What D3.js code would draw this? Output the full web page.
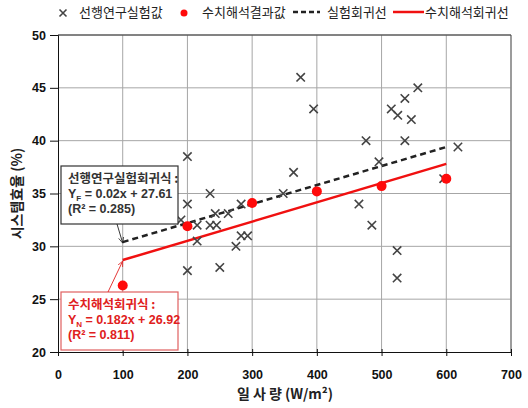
<!DOCTYPE html>
<html>
<head>
<meta charset="utf-8">
<script src="https://cdn.jsdelivr.net/npm/d3@7"></script>
<style>
    body { margin: 0; background: #fff; }
    svg { font-family: "Noto Sans CJK KR", "Liberation Sans", sans-serif; }
    .tick-label { font-family: "Liberation Sans", Arial, sans-serif; font-weight: bold; font-size: 12.5px; fill: #111; }
    .grid line { stroke: #a6a6a6; stroke-width: 1; }
</style>
</head>
<body>
<svg id="chart"></svg>
<script>
// experiment data (선행연구실험값)
const expX = [190, 200, 200, 200, 215, 215, 235, 235, 245, 243, 263, 250, 275, 283, 283, 293,
    348, 364, 375, 395, 465, 476, 485, 496, 515, 525, 524, 524, 536, 536, 546, 556, 596, 618];
const expY = [32.5, 38.5, 34.0, 27.7, 32.0, 30.5, 35.0, 32.0, 32.0, 33.1, 33.1, 28.0, 30.0, 34.0, 31.0, 31.0,
    35.0, 37.0, 46.0, 43.0, 34.0, 40.0, 32.0, 38.0, 43.0, 42.4, 29.6, 27.0, 44.0, 40.0, 42.0, 45.0, 36.4, 39.4];

// numerical results (수치해석결과값)
const numX = [100, 200, 300, 400, 500, 600];
const numY = [26.3, 31.9, 34.1, 35.2, 35.7, 36.4];

// regression lines, end points
const expFitX = [100, 600];
const expFitY = [30.4, 39.4];
const numFitX = [100, 600];
const numFitY = [28.7, 37.8];

const xTicks = [0, 100, 200, 300, 400, 500, 600, 700];
const yTicks = [20, 25, 30, 35, 40, 45, 50];

const legendLabels = ['선행연구실험값', '수치해석결과값', '실험회귀선', '수치해석회귀선'];
const expEqLines = ['선행연구실험회귀식 :', 'Y', '(R² = 0.285)'];
const numEqLines = ['수치해석회귀식 :', 'Y', '(R² = 0.811)'];

const width = 528, height = 408;
const svg = d3.select('#chart').attr('width', width).attr('height', height);

const x = d3.scaleLinear().domain([0, 700]).range([58, 511]);
const y = d3.scaleLinear().domain([20, 50]).range([352, 35]);

// grid
const grid = svg.append('g').attr('class', 'grid');
grid.selectAll('line.v').data(xTicks.slice(1)).enter().append('line')
    .attr('x1', d => x(d)).attr('x2', d => x(d))
    .attr('y1', y(50)).attr('y2', y(20));
grid.selectAll('line.h').data(yTicks.slice(1)).enter().append('line')
    .attr('x1', x(0)).attr('x2', x(700))
    .attr('y1', d => y(d)).attr('y2', d => y(d));

// frame: right edge grey, top dark
svg.append('line').attr('x1', x(700)).attr('x2', x(700)).attr('y1', y(50)).attr('y2', y(20))
    .attr('stroke', '#8a8a8a').attr('stroke-width', 1.5);
svg.append('line').attr('x1', x(0)).attr('x2', x(700)).attr('y1', y(50)).attr('y2', y(50))
    .attr('stroke', '#333').attr('stroke-width', 1);

// axes
const xAxis = svg.append('g').attr('transform', `translate(0,${y(20)})`)
    .call(d3.axisBottom(x).tickValues(xTicks).tickSize(4).tickFormat(d3.format('d')));
xAxis.select('.domain').attr('stroke', '#111');
xAxis.selectAll('.tick line').attr('stroke', '#111').attr('y1', -3);
xAxis.selectAll('.tick text').attr('class', 'tick-label').attr('y', 18);

const yAxis = svg.append('g').attr('transform', `translate(${x(0)},0)`)
    .call(d3.axisLeft(y).tickValues(yTicks).tickSize(8).tickFormat(d3.format('d')));
yAxis.select('.domain').attr('stroke', '#111');
yAxis.selectAll('.tick line').attr('stroke', '#111');
yAxis.selectAll('.tick text').attr('class', 'tick-label').attr('x', -12);

// axis titles
svg.append('text')
    .attr('x', 285).attr('y', 399)
    .attr('text-anchor', 'middle')
    .style('font-size', '14px').style('font-weight', 'bold').style('fill', '#222')
    .text('일 사 량 (W/m²)');
svg.append('text')
    .attr('transform', `translate(22,${y(35)})rotate(-90)`)
    .attr('text-anchor', 'middle')
    .style('font-size', '14px').style('font-weight', 'bold').style('fill', '#222')
    .text('시스템효율 (%)');

// regression lines
const line = d3.line().x(d => x(d[0])).y(d => y(d[1]));
svg.append('path')
    .datum(d3.zip(expFitX, expFitY))
    .attr('d', line)
    .attr('fill', 'none').attr('stroke', '#222').attr('stroke-width', 2.5)
    .attr('stroke-dasharray', '6,4');
svg.append('path')
    .datum(d3.zip(numFitX, numFitY))
    .attr('d', line)
    .attr('fill', 'none').attr('stroke', '#f01010').attr('stroke-width', 2.5);

// x markers
const cross = (sel, s) => sel.append('path')
    .attr('d', `M${-s},${-s}L${s},${s}M${-s},${s}L${s},${-s}`)
    .attr('stroke', '#444').attr('stroke-width', 1.6).attr('fill', 'none');
const marks = svg.append('g').selectAll('g').data(d3.zip(expX, expY)).enter().append('g')
    .attr('transform', d => `translate(${x(d[0])},${y(d[1])})`);
cross(marks, 4.2);

// red dots
svg.append('g').selectAll('circle').data(d3.zip(numX, numY)).enter().append('circle')
    .attr('cx', d => x(d[0])).attr('cy', d => y(d[1])).attr('r', 5)
    .attr('fill', '#ff0a0a');

// arrow markers
const defs = svg.append('defs');
[['arrBlack', '#222'], ['arrRed', '#e02020']].forEach(([id, c]) => {
    defs.append('marker').attr('id', id)
        .attr('viewBox', '0 0 10 10').attr('refX', 9).attr('refY', 5)
        .attr('markerWidth', 7).attr('markerHeight', 7).attr('orient', 'auto')
        .append('path').attr('d', 'M0,1L9,5L0,9').attr('fill', 'none').attr('stroke', c).attr('stroke-width', 1.2);
});

// annotation boxes
function eqBox(top, bottom, color, textColor, lines, sub, eq) {
    svg.append('rect')
        .attr('x', 61).attr('y', top).attr('width', 117).attr('height', bottom - top)
        .attr('fill', '#fff').attr('stroke', color).attr('stroke-width', 1.2);
    const t = svg.append('g').style('font-size', '12.5px').style('fill', textColor).style('font-weight', 'bold');
    t.append('text').attr('x', 68).attr('y', top + 17).text(lines[0]);
    const l2 = t.append('text').attr('x', 68).attr('y', top + 32)
        .style('font-family', '"Liberation Sans", Arial, sans-serif');
    l2.append('tspan').text(lines[1]);
    l2.append('tspan').attr('dy', 3).style('font-size', '8px').text(sub);
    l2.append('tspan').attr('dy', -3).text(eq);
    t.append('text').attr('x', 68).attr('y', top + 47)
        .style('font-family', '"Liberation Sans", Arial, sans-serif').text(lines[2]);
}
eqBox(166, 224, '#333', '#333', expEqLines, 'F', ' = 0.02x + 27.61');
eqBox(292, 350, '#e06060', '#e02020', numEqLines, 'N', ' = 0.182x + 26.92');

svg.append('line')
    .attr('x1', 117).attr('y1', 224).attr('x2', x(expFitX[0])).attr('y2', y(expFitY[0]) + 1)
    .attr('stroke', '#222').attr('stroke-width', 0.9).attr('marker-end', 'url(#arrBlack)');
svg.append('line')
    .attr('x1', 108).attr('y1', 292).attr('x2', x(numFitX[0])).attr('y2', y(numFitY[0]) + 1)
    .attr('stroke', '#e02020').attr('stroke-width', 0.9).attr('marker-end', 'url(#arrRed)');

// legend
const lg = svg.append('g').style('font-size', '13px').style('fill', '#222');
const lgY = 17;
cross(lg.append('g').attr('transform', `translate(63,${lgY - 4})`), 3.5);
lg.append('text').attr('x', 79).attr('y', lgY).text(legendLabels[0]);
lg.append('circle').attr('cx', 184).attr('cy', lgY - 4).attr('r', 3.5).attr('fill', '#ff0a0a');
lg.append('text').attr('x', 202).attr('y', lgY).text(legendLabels[1]);
lg.append('line').attr('x1', 293).attr('x2', 320).attr('y1', lgY - 5).attr('y2', lgY - 5)
    .attr('stroke', '#222').attr('stroke-width', 2.5).attr('stroke-dasharray', '5,3');
lg.append('text').attr('x', 327).attr('y', lgY).text(legendLabels[2]);
lg.append('line').attr('x1', 393).attr('x2', 424).attr('y1', lgY - 5).attr('y2', lgY - 5)
    .attr('stroke', '#f01010').attr('stroke-width', 2.5);
lg.append('text').attr('x', 425).attr('y', lgY).text(legendLabels[3]);
</script>
</body>
</html>
